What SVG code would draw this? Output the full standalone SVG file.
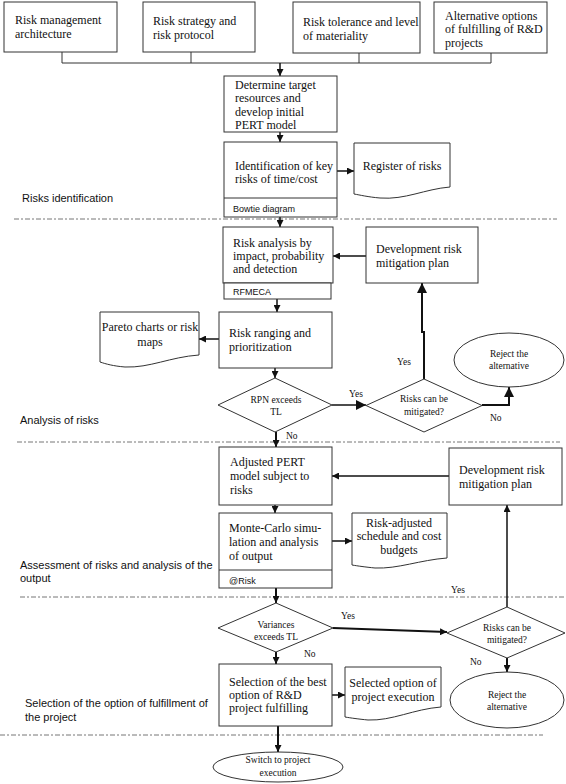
<svg xmlns="http://www.w3.org/2000/svg" width="566" height="784" viewBox="0 0 566 784">
<style>
.box{fill:#fff;stroke:#333;stroke-width:1}
.t{font-family:"Liberation Serif","Times New Roman",serif;font-size:12px;fill:#111}
.s{font-family:"Liberation Serif","Times New Roman",serif;font-size:9.5px;fill:#111}
.m{text-anchor:middle}
.sans{font-family:"Liberation Sans",Arial,sans-serif;font-size:11px;fill:#111}
.sub{font-family:"Liberation Sans",Arial,sans-serif;font-size:9px;fill:#111}
.c{fill:none;stroke:#111;stroke-width:1.5}
.c2{fill:none;stroke:#111;stroke-width:2}
.bus{fill:none;stroke:#333;stroke-width:1}
.dash{fill:none;stroke:#777;stroke-width:1;stroke-dasharray:5 2 2 2}
</style>
<defs>
<marker id="a" viewBox="0 0 10 10" refX="10" refY="5" markerWidth="7" markerHeight="7" markerUnits="userSpaceOnUse" orient="auto"><path d="M0,0 L10,5 L0,10 z" fill="#111"/></marker>
<marker id="b" viewBox="0 0 10 10" refX="10" refY="5" markerWidth="10" markerHeight="10" markerUnits="userSpaceOnUse" orient="auto"><path d="M0,0 L10,5 L0,10 z" fill="#111"/></marker>
</defs>
<rect width="566" height="784" fill="#fff"/>

<g id="dividers">
<line class="dash" x1="14" y1="219" x2="557" y2="219"/>
<line class="dash" x1="17" y1="442" x2="560" y2="442"/>
<line class="dash" x1="20" y1="597" x2="566" y2="597"/>
<line class="dash" x1="0" y1="735" x2="543" y2="735"/>
</g>

<g id="phase-labels">
<text class="sans" x="22" y="202">Risks identification</text>
<text class="sans" x="20" y="424">Analysis of risks</text>
<text class="sans" x="20" y="569">Assessment of risks and analysis of the</text>
<text class="sans" x="20" y="582">output</text>
<text class="sans" x="25" y="707">Selection of the option of fulfillment of</text>
<text class="sans" x="25" y="721">the project</text>
</g>

<g id="connectors">
<path class="bus" d="M62,52 V63 M191,52 V63 M359,53 V63 M491,53 V63 M62,63 H491"/>
<path class="c" d="M280,63 V76" marker-end="url(#a)"/>
<path class="c" d="M280,132 V142" marker-end="url(#a)"/>
<path class="c" d="M337,171 H354" marker-end="url(#a)"/>
<path class="c" d="M280,217 V227" marker-end="url(#a)"/>
<path class="c" d="M366,256 H333" marker-end="url(#a)"/>
<path class="c" d="M277,299 V312" marker-end="url(#a)"/>
<path class="c" d="M219,339 H199" marker-end="url(#a)"/>
<path class="c" d="M275,368 V378" marker-end="url(#a)"/>
<path class="c" d="M332,405 H366" marker-end="url(#b)"/>
<path class="c2" d="M424,379 V332 H422 V283" marker-end="url(#b)"/>
<path class="c2" d="M482,405 H509 V387" marker-end="url(#b)"/>
<path class="c2" d="M276,432 V447" marker-end="url(#a)"/>
<path class="c" d="M449,476 H332" marker-end="url(#a)"/>
<path class="c" d="M275,505 V513" marker-end="url(#a)"/>
<path class="c" d="M332,541 H352" marker-end="url(#a)"/>
<path class="c2" d="M276,588 V603" marker-end="url(#a)"/>
<path class="c2" d="M333,628 L447,632" marker-end="url(#a)"/>
<path class="c" d="M507,607 V505" marker-end="url(#a)"/>
<path class="c2" d="M276,652 V664" marker-end="url(#a)"/>
<path class="c2" d="M507,658 V672" marker-end="url(#a)"/>
<path class="c" d="M332,695 H345" marker-end="url(#a)"/>
<path class="c2" d="M278,726 V752" marker-end="url(#a)"/>
<text class="s" x="349" y="397">Yes</text>
<text class="s" x="397" y="365">Yes</text>
<text class="s" x="490" y="421">No</text>
<text class="s" x="286" y="439">No</text>
<text class="s" x="451" y="593">Yes</text>
<text class="s" x="341" y="619">Yes</text>
<text class="s" x="304" y="657">No</text>
<text class="s" x="470" y="665">No</text>
</g>

<g id="n-risk-arch">
<rect class="box" x="4" y="2" width="113" height="50"/>
<text class="t" x="15" y="24">Risk management</text>
<text class="t" x="15" y="38">architecture</text>
</g>
<g id="n-risk-strategy">
<rect class="box" x="143" y="2" width="112" height="50"/>
<text class="t" x="153" y="25">Risk strategy and</text>
<text class="t" x="153" y="39">risk protocol</text>
</g>
<g id="n-risk-tolerance">
<rect class="box" x="293" y="2" width="127" height="51"/>
<text class="t" x="303" y="26">Risk tolerance and level</text>
<text class="t" x="303" y="40">of materiality</text>
</g>
<g id="n-alternatives">
<rect class="box" x="434" y="2" width="113" height="51"/>
<text class="t" x="445" y="20">Alternative options</text>
<text class="t" x="445" y="33">of fulfilling of R&amp;D</text>
<text class="t" x="445" y="47">projects</text>
</g>

<g id="n-determine">
<rect class="box" x="224" y="76" width="113" height="56"/>
<text class="t" x="235" y="89">Determine target</text>
<text class="t" x="235" y="102">resources and</text>
<text class="t" x="235" y="116">develop initial</text>
<text class="t" x="235" y="129">PERT model</text>
</g>

<g id="n-identification">
<rect class="box" x="224" y="142" width="113" height="75"/>
<line class="box" x1="224" y1="198" x2="337" y2="198"/>
<text class="t" x="235" y="170">Identification of key</text>
<text class="t" x="235" y="183">risks of time/cost</text>
<text class="sub" x="233" y="212">Bowtie diagram</text>
</g>

<g id="n-register">
<path class="box" d="M354,143 H450 V187 C425,189 405,200 380,198 C368,197 360,195 354,194 Z"/>
<text class="t m" x="402" y="170">Register of risks</text>
</g>

<g id="n-risk-analysis">
<rect class="box" x="223" y="227" width="110" height="56"/>
<rect class="box" x="224" y="283" width="107" height="16"/>
<text class="t" x="233" y="247">Risk analysis by</text>
<text class="t" x="233" y="260">impact, probability</text>
<text class="t" x="233" y="273">and detection</text>
<text class="sub" x="233" y="295">RFMECA</text>
</g>

<g id="n-dev-plan-1">
<rect class="box" x="366" y="227" width="112" height="56"/>
<text class="t" x="376" y="253">Development risk</text>
<text class="t" x="376" y="267">mitigation plan</text>
</g>

<g id="n-ranging">
<rect class="box" x="219" y="312" width="113" height="56"/>
<text class="t" x="229" y="337">Risk ranging and</text>
<text class="t" x="229" y="351">prioritization</text>
</g>

<g id="n-pareto">
<path class="box" d="M100,312 H199 V355 C170,357 150,368 125,367 C113,366 106,364 100,362 Z"/>
<text class="t m" x="150" y="331">Pareto charts or risk</text>
<text class="t m" x="150" y="346">maps</text>
</g>

<g id="n-rpn">
<polygon class="box" points="275,378 332,405 275,432 218,405"/>
<text class="s m" x="276" y="403">RPN exceeds</text>
<text class="s m" x="276" y="415">TL</text>
</g>

<g id="n-mitigate-1">
<polygon class="box" points="424,379 482,405.5 424,432 366,405.5"/>
<text class="s m" x="424" y="402">Risks can be</text>
<text class="s m" x="424" y="415">mitigated?</text>
</g>

<g id="n-reject-1">
<ellipse class="box" cx="509" cy="360" rx="55" ry="27"/>
<text class="s m" x="509" y="357">Reject the</text>
<text class="s m" x="509" y="369">alternative</text>
</g>

<g id="n-adjusted">
<rect class="box" x="219" y="447" width="113" height="58"/>
<text class="t" x="230" y="466">Adjusted PERT</text>
<text class="t" x="230" y="480">model subject to</text>
<text class="t" x="230" y="494">risks</text>
</g>

<g id="n-dev-plan-2">
<rect class="box" x="449" y="448" width="113" height="57"/>
<text class="t" x="459" y="474">Development risk</text>
<text class="t" x="459" y="488">mitigation plan</text>
</g>

<g id="n-monte-carlo">
<rect class="box" x="219" y="513" width="113" height="75"/>
<line class="box" x1="219" y1="570" x2="332" y2="570"/>
<text class="t" x="229" y="532">Monte-Carlo simu-</text>
<text class="t" x="229" y="546">lation and analysis</text>
<text class="t" x="229" y="560">of output</text>
<text class="sub" x="229" y="584">@Risk</text>
</g>

<g id="n-risk-adjusted">
<path class="box" d="M352,513 H447 V558 C420,560 398,569 375,568 C365,567 358,566 352,565 Z"/>
<text class="t m" x="399" y="527">Risk-adjusted</text>
<text class="t m" x="399" y="540">schedule and cost</text>
<text class="t m" x="399" y="554">budgets</text>
</g>

<g id="n-variances">
<polygon class="box" points="276,603 333,628 276,652 218,628"/>
<text class="s m" x="276" y="628">Variances</text>
<text class="s m" x="276" y="640">exceeds TL</text>
</g>

<g id="n-mitigate-2">
<polygon class="box" points="507,607 565,633 507,658 447,633"/>
<text class="s m" x="507" y="631">Risks can be</text>
<text class="s m" x="507" y="643">mitigated?</text>
</g>

<g id="n-reject-2">
<ellipse class="box" cx="507" cy="700" rx="57" ry="28"/>
<text class="s m" x="507" y="698">Reject the</text>
<text class="s m" x="507" y="710">alternative</text>
</g>

<g id="n-selection">
<rect class="box" x="219" y="664" width="113" height="62"/>
<text class="t" x="229" y="686">Selection of the best</text>
<text class="t" x="229" y="699">option of R&amp;D</text>
<text class="t" x="229" y="712">project fulfilling</text>
</g>

<g id="n-selected-option">
<path class="box" d="M345,667 H441 V707 C414,709 392,721 368,720 C358,719 351,718 345,717 Z"/>
<text class="t m" x="393" y="687">Selected option of</text>
<text class="t m" x="393" y="701">project execution</text>
</g>

<g id="n-switch">
<ellipse class="box" cx="278" cy="767" rx="65" ry="15"/>
<text class="s m" x="278" y="763">Switch to project</text>
<text class="s m" x="278" y="776">execution</text>
</g>
</svg>
